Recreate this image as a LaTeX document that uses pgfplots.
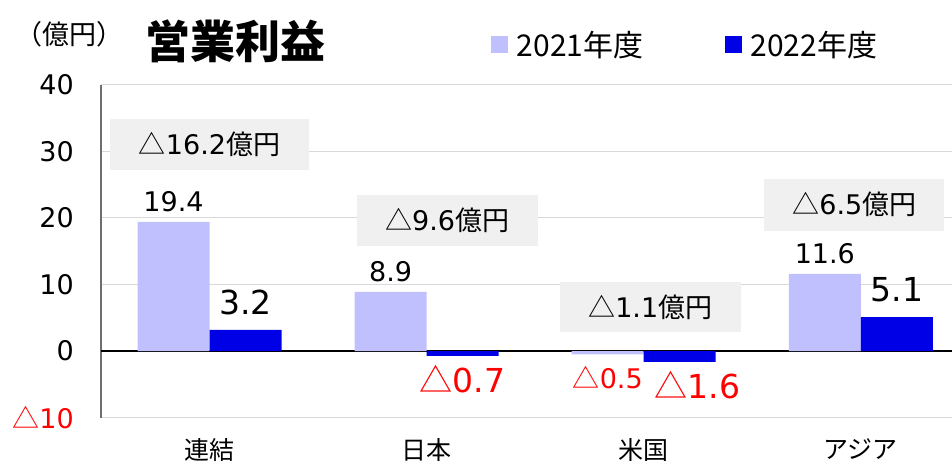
\documentclass[border=0pt]{standalone}
\usepackage{fontspec}
\setmainfont{DejaVu Sans}
\newfontfamily\cjk{Noto Sans CJK JP}
\usepackage{pgfplots}
\pgfplotsset{compat=1.18}
\usepackage{pgfplotstable}
\definecolor{c21}{RGB}{192,192,255}
\definecolor{c22}{RGB}{0,0,230}
\definecolor{boxgray}{RGB}{240,240,240}
\definecolor{gridgray}{RGB}{217,217,217}
\definecolor{axgray}{RGB}{110,110,110}
\protected\def\tri{{\cjk △}}
\protected\def\ng#1{\textcolor{red}{\tri#1}}
% negative label: hung below the anchor point (#2 = drop, #3 = lead space)
\protected\def\ngd#1#2#3{\raisebox{-\dimexpr\height+#2pt\relax}[0pt][0pt]{\hspace*{#3pt}\textcolor{red}{\tri#1}}}
\newcommand{\fs}[1]{\fontsize{#1}{#1}\selectfont}

\pgfplotstableread{
x y lab
0 19.4 19.4
1 8.9 8.9
2 -0.5 \ngd{0.5}{22}{0}
3 11.6 11.6
}\tA
\pgfplotstableread{
x y lab
0 3.2 3.2
1 -0.7 \ngd{0.7}{24.5}{0}
2 -1.6 \ngd{1.6}{24}{36}
3 5.1 5.1
}\tB

\begin{document}
\begin{tikzpicture}[x=1pt,y=1pt]
\path[use as bounding box] (0,0) rectangle (952,467);
\node[font=\cjk\fs{27}] at (69,433) {（億円）};
\node[font=\cjk\bfseries\fs{45}] at (235,426) {営業利益};
\begin{axis}[
  at={(101pt,49.3pt)}, anchor=south west,
  width=851pt, height=333pt, scale only axis,
  ybar=0pt, bar width=72pt,
  xmin=-0.5, xmax=3.42, ymin=-10, ymax=40,
  enlarge x limits=false, enlarge y limits=false,
  xtick={0,1,2,3}, xticklabels={連結,日本,米国,アジア},
  xticklabel style={font=\cjk\fs{25}, inner sep=0pt, yshift=-21pt},
  ytick={-10,0,10,20,30,40},
  yticklabels={\ng{10},0,10,20,30,40},
  yticklabel style={font=\fs{27}, inner sep=0pt, xshift=-27pt},
  major tick length=0pt, tick style={draw=none},
  axis line style={draw=none},
  ymajorgrids, grid style={gridgray, line width=1pt},
  extra y ticks={0}, extra y tick labels={},
  extra y tick style={grid style={black, line width=1.6pt}},
  extra x ticks={-0.5}, extra x tick labels={},
  extra x tick style={grid=major, grid style={axgray, line width=2pt}},
  legend columns=2,
  legend style={at={(0.458,1.121)}, anchor=west, draw=none, fill=none,
    inner sep=0pt, font=\cjk\fs{30},
    /tikz/every odd column/.append style={column sep=7pt},
    /tikz/every even column/.append style={column sep=79pt}},
  legend image code/.code={\fill[#1, draw=none] (0pt,-8.5pt) rectangle (17pt,8.5pt);},
]
\addplot[fill=c21, draw=none, nodes near coords, point meta=explicit symbolic,
  nodes near coords style={font=\fs{27}, text=black, anchor=south, inner sep=10pt}]
  table[x=x, y=y, meta=lab]{\tA};
\addplot[fill=c22, draw=none, nodes near coords, point meta=explicit symbolic,
  nodes near coords style={font=\fs{33}, text=black, anchor=south, inner sep=14.5pt}]
  table[x=x, y=y, meta=lab]{\tB};
\legend{2021年度,2022年度}
\node[fill=boxgray, minimum width=199pt, minimum height=51pt, inner sep=0pt, font=\fs{27}]
  at (axis cs:0.0,31.0) {\tri16.2{\cjk 億円}};
\node[fill=boxgray, minimum width=181pt, minimum height=51pt, inner sep=0pt, font=\fs{27}]
  at (axis cs:1.094,19.57) {\tri9.6{\cjk 億円}};
\node[fill=boxgray, minimum width=181pt, minimum height=50pt, inner sep=0pt, font=\fs{27}]
  at (axis cs:2.03,6.6) {\tri1.1{\cjk 億円}};
\node[fill=boxgray, minimum width=180pt, minimum height=52pt, inner sep=0pt, font=\fs{27}]
  at (axis cs:2.97,22.0) {\tri6.5{\cjk 億円}};
\end{axis}
\end{tikzpicture}
\end{document}
